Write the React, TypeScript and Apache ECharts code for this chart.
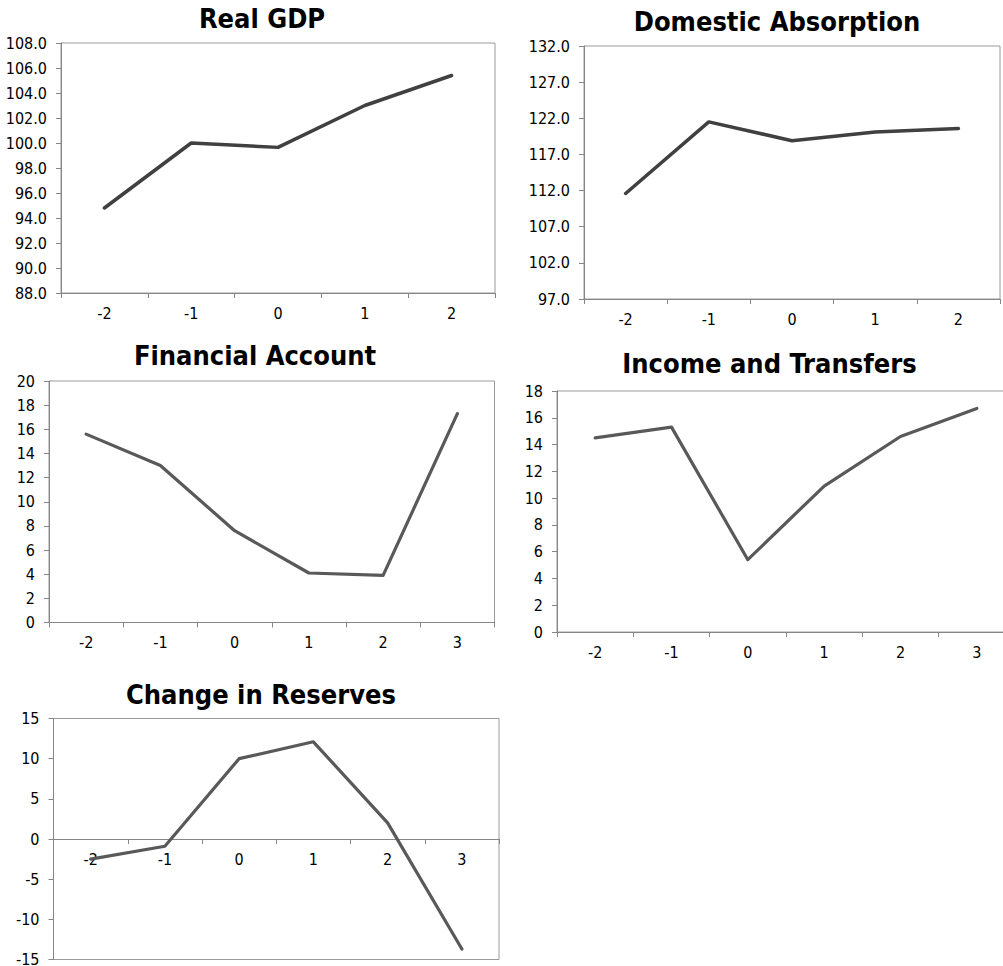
import React, { useEffect, useRef } from "react";
import * as echarts from "echarts";

const titles = ["Real GDP", "Domestic Absorption", "Financial Account", "Income and Transfers", "Change in Reserves"];

const catsA = ["-2", "-1", "0", "1", "2"];
const catsB = ["-2", "-1", "0", "1", "2", "3"];

const realGdp = [94.8, 100.0, 99.65, 103.0, 105.4];
const domesticAbsorption = [111.6, 121.5, 118.9, 120.1, 120.6];
const financialAccount = [15.6, 13.0, 7.6, 4.1, 3.9, 17.3];
const incomeTransfers = [14.5, 15.3, 5.4, 10.9, 14.6, 16.7];
const changeReserves = [-2.5, -0.9, 10.0, 12.1, 2.0, -13.7];

const yRanges = [
  { min: 88, max: 108, interval: 2, decimals: 1 },
  { min: 97, max: 132, interval: 5, decimals: 1 },
  { min: 0, max: 20, interval: 2, decimals: 0 },
  { min: 0, max: 18, interval: 2, decimals: 0 },
  { min: -15, max: 15, interval: 5, decimals: 0 },
];

const FONT = "'DejaVu Sans Condensed', 'DejaVu Sans'";

export default function App() {
  const ref = useRef<HTMLDivElement>(null);
  useEffect(() => {
    const chart = echarts.init(ref.current!, null, { renderer: "svg" });
    const grids = [
      { left: 61, top: 43, width: 434, height: 250 },
      { left: 584, top: 46, width: 416, height: 253 },
      { left: 49, top: 381, width: 445.5, height: 241.5 },
      { left: 557, top: 391, width: 458, height: 241 },
      { left: 53.5, top: 718.5, width: 445.5, height: 241 },
    ];
    const titlePos = [
      [262, 18.5],
      [777, 21.5],
      [255, 355],
      [769.5, 363.5],
      [261, 694],
    ];
    const cats = [catsA, catsA, catsB, catsB, catsB];
    const data = [realGdp, domesticAbsorption, financialAccount, incomeTransfers, changeReserves];
    const colors = ["#404040", "#404040", "#595959", "#595959", "#595959"];
    const widths = [3.5, 3.5, 3.2, 3.2, 3.2];
    // offset of the x axis of the last chart so that it sits on the zero line
    const zeroOffset = -(241 * 15) / 30;

    chart.setOption({
      animation: false,
      grid: grids.map((g) => ({
        ...g,
        show: true,
        borderColor: "#9a9a9a",
        borderWidth: 1,
        backgroundColor: "transparent",
        containLabel: false,
        outerBoundsMode: "none",
      })),
      xAxis: cats.map((c, i) => ({
        type: "category",
        gridIndex: i,
        data: c,
        boundaryGap: true,
        position: "bottom",
        offset: i === 4 ? zeroOffset : 0,
        axisLine: { show: true, onZero: false, lineStyle: { color: "#868686", width: 1 } },
        axisTick: { show: true, inside: false, length: 5, alignWithLabel: false, lineStyle: { color: "#868686" } },
        axisLabel: { color: "#000", fontFamily: FONT, fontSize: 16, margin: 12, interval: 0 },
        splitLine: { show: false },
      })),
      yAxis: yRanges.map((r, i) => ({
        type: "value",
        gridIndex: i,
        min: r.min,
        max: r.max,
        interval: r.interval,
        axisLine: { show: true, lineStyle: { color: "#868686", width: 1 } },
        axisTick: { show: true, inside: false, length: 5, lineStyle: { color: "#868686" } },
        axisLabel: {
          color: "#000",
          fontFamily: FONT,
          fontSize: 16,
          margin: 14,
          formatter: (v: number) => v.toFixed(r.decimals),
        },
        splitLine: { show: false },
      })),
      series: data.map((d, i) => ({
        type: "line",
        xAxisIndex: i,
        yAxisIndex: i,
        data: d,
        showSymbol: false,
        symbol: "none",
        lineStyle: { color: colors[i], width: widths[i], cap: "round", join: "round" },
        silent: true,
      })),
      graphic: titles.map((t, i) => ({
        type: "text",
        x: titlePos[i][0],
        y: titlePos[i][1],
        style: {
          text: t,
          fontFamily: FONT,
          fontWeight: "bold",
          fontSize: 27,
          fill: "#000",
          textAlign: "center",
          textVerticalAlign: "middle",
        },
      })),
    });
    return () => chart.dispose();
  }, []);
  return (
    <div
      ref={ref}
      style={{ position: "absolute", left: 0, top: 0, width: 1003, height: 966, background: "#fff" }}
    />
  );
}
